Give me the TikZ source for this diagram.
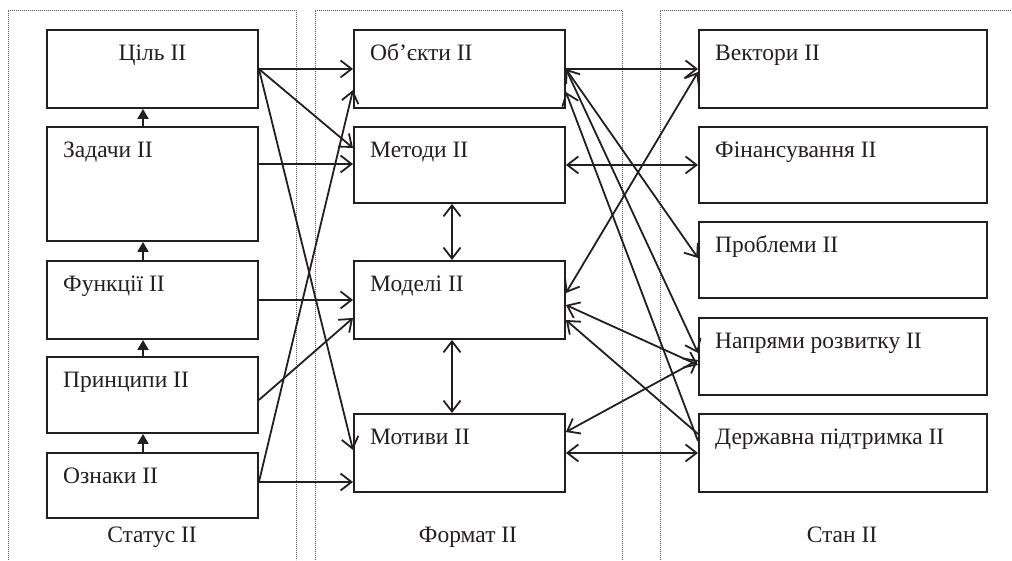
\documentclass[tikz,border=0pt]{standalone}
\usepackage{fontspec}
\setmainfont{Liberation Serif}
\usetikzlibrary{arrows.meta,calc}
\definecolor{ink}{RGB}{35,31,32}
\definecolor{framegray}{RGB}{90,90,90}
\begin{document}
\begin{tikzpicture}[x=1pt,y=-1pt,
  box/.style={draw=ink,line width=1.9pt,rectangle,inner sep=0pt,anchor=north west},
  lcol/.style={box,minimum width=211pt},
  rcol/.style={box,minimum width=288pt},
  txt/.style={label={[anchor=base west,xshift=17pt,yshift=-31pt,font=\fontsize{23.5}{28}\selectfont,text=ink,inner sep=0pt]north west:#1}},
  ctxt/.style={label={[anchor=base,yshift=-31pt,font=\fontsize{23.5}{28}\selectfont,text=ink,inner sep=0pt]north:#1}},
  grp/.style={anchor=base,font=\fontsize{23.5}{28}\selectfont,text=ink,inner sep=0pt},
  frame/.style={draw=framegray,line width=0.8pt,dash pattern=on 0.8pt off 1.2pt},
  con/.style={draw=ink,line width=1.8pt,-{Straight Barb[length=11pt,width=17pt]}},
  dcon/.style={draw=ink,line width=1.8pt,{Straight Barb[length=11pt,width=17pt]}-{Straight Barb[length=11pt,width=17pt]}},
  upar/.style={draw=ink,line width=1.8pt,-{Triangle[length=10pt,width=11pt]}}
]
\useasboundingbox (0,0) rectangle (1012,560);

% frames
\draw[frame] (8,560) -- (8,10) -- (296,10) -- (296,560);
\draw[frame] (315,560) -- (315,10) -- (622,10) -- (622,560);
\draw[frame] (660,560) -- (660,10) -- (1012,10);

% left column
\node[lcol,minimum height=78pt,ctxt={Ціль II}] (cil) at (46,29) {};
\node[lcol,minimum height=114pt,txt={Задачи II}] (zad) at (46,126) {};
\node[lcol,minimum height=78pt,txt={Функції II}] (fun) at (46,260) {};
\node[lcol,minimum height=76pt,txt={Принципи II}] (pry) at (46,356) {};
\node[lcol,minimum height=65pt,txt={Ознаки II}] (ozn) at (46,452) {};

% middle column
\node[lcol,minimum height=78pt,txt={Об’єкти II}] (obj) at (353,29) {};
\node[lcol,minimum height=76pt,txt={Методи II}] (met) at (353,126) {};
\node[lcol,minimum height=78pt,txt={Моделі II}] (mod) at (353,260) {};
\node[lcol,minimum height=78pt,txt={Мотиви II}] (mot) at (353,413) {};

% right column
\node[rcol,minimum height=78pt,txt={Вектори II}] (vek) at (698,29) {};
\node[rcol,minimum height=76pt,txt={Фінансування II}] (fin) at (698,126) {};
\node[rcol,minimum height=76pt,txt={Проблеми II}] (prob) at (698,221) {};
\node[rcol,minimum height=77pt,txt={Напрями розвитку II}] (nap) at (698,317) {};
\node[rcol,minimum height=78pt,txt={Державна підтримка II}] (der) at (698,413) {};

% group labels
\node[grp] (gstatus) at (152,542) {Статус II};
\node[grp] (gformat) at (468,542) {Формат II};
\node[grp] (gstan) at (842,542) {Стан II};

% left column vertical arrows
\draw[upar] ([xshift=97pt]zad.north west) -- ([xshift=97pt]cil.south west);
\draw[upar] ([xshift=97pt]fun.north west) -- ([xshift=97pt]zad.south west);
\draw[upar] ([xshift=97pt]pry.north west) -- ([xshift=97pt]fun.south west);
\draw[upar] ([xshift=97pt]ozn.north west) -- ([xshift=97pt]pry.south west);

% middle column vertical arrows
\draw[dcon] ([xshift=99pt]met.south west) -- ([xshift=99pt]mod.north west);
\draw[dcon] ([xshift=99pt]mod.south west) -- ([xshift=99pt]mot.north west);

% left -> middle
\draw[con] (cil.east) -- (obj.west);
\draw[con] (cil.east) -- ([yshift=-22pt]met.north west);
\draw[con] (cil.east) -- ([yshift=-37pt]mot.north west);
\draw[con] ([yshift=-38pt]zad.north east) -- ([yshift=-38pt]met.north west);
\draw[con] (fun.east) -- (mod.west);
\draw[con] ([yshift=-44pt]pry.north east) -- ([yshift=-58pt]mod.north west);
\draw[con] ([yshift=-30pt]ozn.north east) -- ([yshift=-69pt]mot.north west);
\draw[con] ([yshift=-30pt]ozn.north east) -- ([yshift=-61pt]obj.north west);

% middle <-> right
\draw[con] (obj.east) -- (vek.west);
\draw[dcon] (obj.east) -- ([yshift=-37pt]prob.north west);
\draw[con] (obj.east) -- ([yshift=-36pt]nap.north west);
\draw[con] ([yshift=-28pt]der.north west) -- ([yshift=-63pt]obj.north east);
\draw[dcon] ([yshift=-43pt]vek.north west) -- ([yshift=-33pt]mod.north east);
\draw[dcon] (met.east) -- (fin.west);
\draw[dcon] ([yshift=-45pt]mod.north east) -- ([yshift=-48pt]nap.north west);
\draw[con] ([yshift=-21pt]der.north west) -- ([yshift=-60pt]mod.north east);
\draw[dcon] ([yshift=-43pt]nap.north west) -- ([yshift=-19pt]mot.north east);
\draw[dcon] (mot.east) -- (der.west);
\end{tikzpicture}
\end{document}
